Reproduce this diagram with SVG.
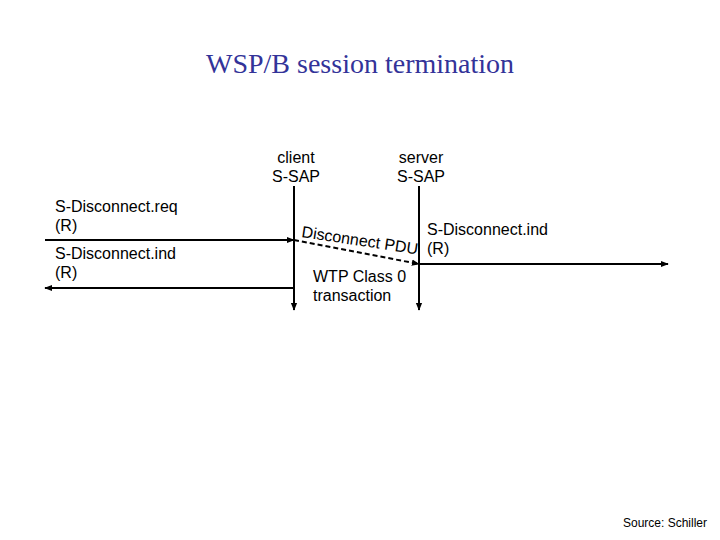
<svg xmlns="http://www.w3.org/2000/svg" width="720" height="540" viewBox="0 0 720 540">
<style>
.t{font-family:"Liberation Sans",Arial,sans-serif;font-size:16px;fill:#000}
.ln{stroke:#000;stroke-width:2;fill:none}
</style>
<defs>
<marker id="ah" viewBox="0 0 10 10" refX="9" refY="5" markerWidth="4" markerHeight="4" orient="auto" markerUnits="strokeWidth">
<path d="M0,1 L10,5 L0,9 z" fill="#000"/>
</marker>
</defs>
<rect width="720" height="540" fill="#fff"/>
<text x="360" y="73" text-anchor="middle" font-family="Liberation Serif,Times New Roman,serif" font-size="28" fill="#333399">WSP/B session termination</text>
<g id="client">
<text class="t" x="296" y="163" text-anchor="middle">client</text>
<text class="t" x="296" y="182" text-anchor="middle">S-SAP</text>
</g>
<g id="server">
<text class="t" x="421" y="163" text-anchor="middle">server</text>
<text class="t" x="421" y="182" text-anchor="middle">S-SAP</text>
</g>
<g id="connectors">
<line class="ln" x1="294" y1="186" x2="294" y2="310" marker-end="url(#ah)"/>
<line class="ln" x1="419" y1="186" x2="419" y2="310" marker-end="url(#ah)"/>
<line class="ln" x1="45" y1="240" x2="294" y2="240" marker-end="url(#ah)"/>
<line class="ln" x1="294" y1="288" x2="45" y2="288" marker-end="url(#ah)"/>
<line class="ln" x1="294" y1="240" x2="419" y2="264" stroke-dasharray="5,3" marker-end="url(#ah)"/>
<line class="ln" x1="419" y1="264" x2="668" y2="264" marker-end="url(#ah)"/>
</g>
<g id="labels">
<text class="t" x="55" y="212">S-Disconnect.req</text>
<text class="t" x="55" y="231">(R)</text>
<text class="t" x="55" y="259">S-Disconnect.ind</text>
<text class="t" x="55" y="278">(R)</text>
<text class="t" x="301" y="237" transform="rotate(8.5 301 237)">Disconnect PDU</text>
<text class="t" x="427" y="235">S-Disconnect.ind</text>
<text class="t" x="427" y="254">(R)</text>
<text class="t" x="313" y="282">WTP Class 0</text>
<text class="t" x="313" y="301">transaction</text>
<text x="707" y="527" text-anchor="end" font-family="Liberation Sans,Arial,sans-serif" font-size="12" fill="#000">Source: Schiller</text>
</g>
</svg>
